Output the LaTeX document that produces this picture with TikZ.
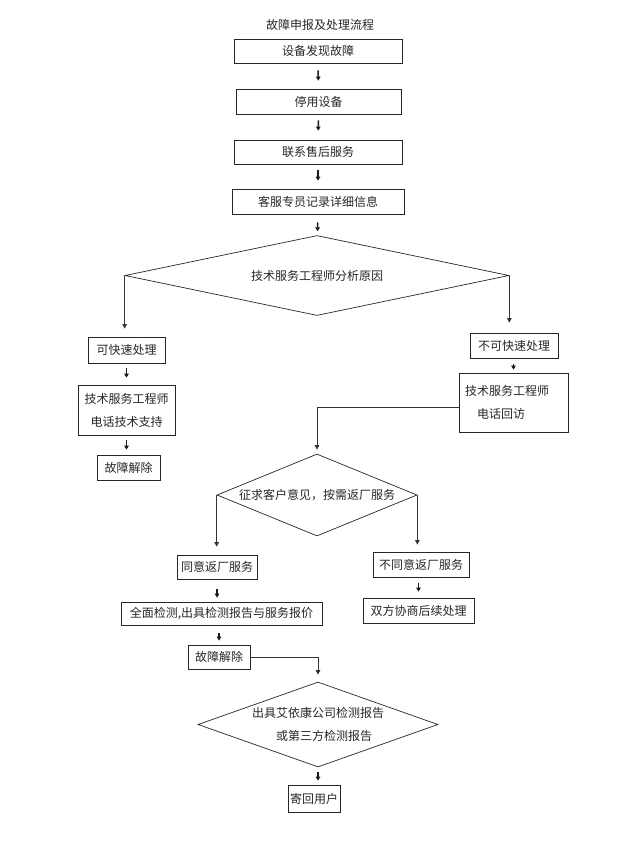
\documentclass[tikz,border=0pt]{standalone}
\usepackage{fontspec}
\setmainfont{Noto Sans CJK SC}
\usetikzlibrary{shapes.geometric,arrows.meta}
\begin{document}
\begin{tikzpicture}[x=1pt,y=-1pt,
  every node/.style={font=\fontsize{12}{23}\selectfont, text=black!85},
  box/.style={draw=black!85, line width=0.7pt, inner sep=0pt, align=center},
  dia/.style={draw=black!85, line width=0.7pt, shape=diamond, inner sep=0pt, align=center},
  sarr/.style={draw=black!90, line width=1.5pt, -{Triangle[length=4pt,width=4.5pt]}},
  conn/.style={draw=black!80, line width=0.8pt, -{Triangle[length=4.5pt,width=4.5pt]}}
]
\path (0,0) rectangle (638,844);

\node (title) at (320,25) {故障申报及处理流程};

\node[box, minimum width=168pt, minimum height=24pt] (b1) at (318,51) {设备发现故障};
\node[box, minimum width=165pt, minimum height=25pt] (b2) at (318.5,101.5) {停用设备};
\node[box, minimum width=168pt, minimum height=24pt] (b3) at (318,152) {联系售后服务};
\node[box, minimum width=172pt, minimum height=25pt] (b4) at (318,201.5) {客服专员记录详细信息};

\node[dia, minimum width=384pt, minimum height=80pt, aspect=4.8] (d1) at (317,275.5) {技术服务工程师分析原因};

\node[box, minimum width=77pt, minimum height=26pt] (q1) at (126.5,350) {可快速处理};
\node[box, minimum width=97pt, minimum height=50pt] (q2) at (126.5,410) {技术服务工程师\\电话技术支持};
\node[box, minimum width=63pt, minimum height=25pt] (q3) at (128.5,467.5) {故障解除};

\node[box, minimum width=88pt, minimum height=25pt] (n1) at (514,345.5) {不可快速处理};
\node[box, minimum width=109pt, minimum height=59pt, text width=97pt, inner xsep=6pt, align=left] (n2) at (513.5,402.5) {技术服务工程师\\\hspace*{12pt}电话回访};

\node[dia, minimum width=200pt, minimum height=82pt, aspect=2.44] (d2) at (317,495) {征求客户意见，按需返厂服务};

\node[box, minimum width=80pt, minimum height=24pt] (a1) at (217,567) {同意返厂服务};
\node[box, minimum width=201pt, minimum height=23pt] (a2) at (221.5,613.5) {全面检测,出具检测报告与服务报价};
\node[box, minimum width=62pt, minimum height=24pt] (a3) at (219,657) {故障解除};

\node[box, minimum width=96pt, minimum height=25pt] (r1) at (421,564.5) {不同意返厂服务};
\node[box, minimum width=111pt, minimum height=25pt] (r2) at (418.5,610.5) {双方协商后续处理};

\node[dia, minimum width=240pt, minimum height=85pt, aspect=2.82] (d3) at (318,724.5) {出具艾依康公司检测报告\\\hspace*{12pt}或第三方检测报告};

\node[box, minimum width=52pt, minimum height=27pt] (e) at (314,798.5) {寄回用户};

% short arrows
\draw[sarr, shorten <=7pt, shorten >=8pt] (b1) -- (b2);
\draw[sarr, shorten <=6pt, shorten >=9pt] (b2) -- (b3);
\draw[sarr, shorten <=6pt, shorten >=8pt] (b3) -- (b4);
\draw[sarr, shorten <=8pt, shorten >=4pt] (b4) -- (d1);
\draw[sarr, shorten <=5pt, shorten >=7pt] (q1.south -| q2.north) -- (q2.north);
\draw[sarr, shorten <=5pt, shorten >=5pt] (q2.south) -- (q2.south |- q3.north);
\draw[sarr, shorten <=6pt, shorten >=3pt] (n1.south -| n2.north) -- (n2.north);
\draw[sarr, shorten <=10pt, shorten >=4pt] (a1.south) -- (a1.south |- a2.north);
\draw[sarr, shorten <=8pt, shorten >=4pt] (a2.south -| a3.north) -- (a3.north);
\draw[sarr, shorten <=6pt, shorten >=6pt] (r1.south -| r2.north) -- (r2.north);
\draw[sarr, shorten <=5pt, shorten >=4pt] (d3.south) -- (d3.south |- e.north);

% long connectors
\draw[conn, shorten >=8pt] (d1.west) -- (d1.west |- q1.north);
\draw[conn, shorten >=10pt] (d1.east) -- (d1.east |- n1.north);
\draw[conn, shorten >=4pt] ([yshift=-4.5pt]n2.west) -| (d2.north);
\draw[conn, shorten >=8pt] (d2.west) -- (d2.west |- a1.north);
\draw[conn, shorten >=7pt] (d2.east) -- (d2.east |- r1.north);
\draw[conn, shorten >=7pt] (a3.east) -| (d3.north);
\end{tikzpicture}
\end{document}
